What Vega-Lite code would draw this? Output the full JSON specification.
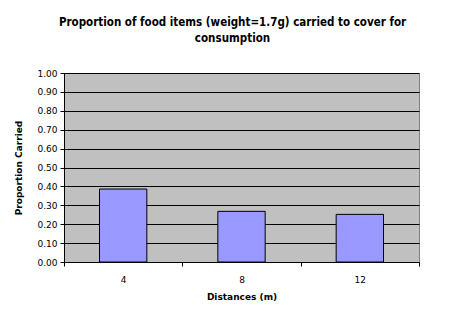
{
  "$schema": "https://vega.github.io/schema/vega-lite/v6.json",
  "width": 355,
  "height": 189,
  "autosize": {"type": "none"},
  "padding": {"left": 64, "top": 73, "right": 42, "bottom": 60},
  "background": "white",
  "title": {
    "text": ["Proportion of food items (weight=1.7g) carried to cover for", "consumption"],
    "font": "DejaVu Sans Condensed, DejaVu Sans",
    "fontSize": 11.5,
    "fontWeight": "bold",
    "color": "black",
    "lineHeight": 16,
    "offset": 25,
    "dx": -9
  },
  "data": {
    "values": [
      {"distance": "4", "proportion": 0.386},
      {"distance": "8", "proportion": 0.268},
      {"distance": "12", "proportion": 0.252}
    ]
  },
  "mark": {"type": "bar", "color": "#9999FF", "stroke": "black", "strokeWidth": 1, "width": {"band": 0.4}},
  "encoding": {
    "x": {
      "field": "distance",
      "type": "ordinal",
      "sort": ["4", "8", "12"],
      "scale": {"paddingInner": 0, "paddingOuter": 0},
      "axis": {
        "title": "Distances (m)",
        "labelAngle": 0,
        "tickBand": "extent",
        "tickSize": 4,
        "tickColor": "black",
        "domainColor": "black",
        "labelPadding": 9,
        "labelFont": "DejaVu Sans",
        "labelFontSize": 9,
        "labelColor": "black",
        "titleFont": "DejaVu Sans",
        "titleFontSize": 9,
        "titleFontWeight": "bold",
        "titleColor": "black",
        "titlePadding": 8
      }
    },
    "y": {
      "field": "proportion",
      "type": "quantitative",
      "scale": {"domain": [0, 1], "nice": false},
      "axis": {
        "title": "Proportion Carried",
        "values": [0, 0.1, 0.2, 0.3, 0.4, 0.5, 0.6, 0.7, 0.8, 0.9, 1.0],
        "format": ".2f",
        "grid": true,
        "gridColor": "black",
        "gridOpacity": 1,
        "tickSize": 4,
        "tickColor": "black",
        "domainColor": "black",
        "labelPadding": 3,
        "labelFont": "DejaVu Sans",
        "labelFontSize": 9,
        "labelColor": "black",
        "titleFont": "DejaVu Sans",
        "titleFontSize": 9,
        "titleFontWeight": "bold",
        "titleColor": "black",
        "titlePadding": 13
      }
    }
  },
  "config": {
    "view": {"fill": "#C0C0C0", "stroke": "#808080", "strokeWidth": 1}
  }
}
